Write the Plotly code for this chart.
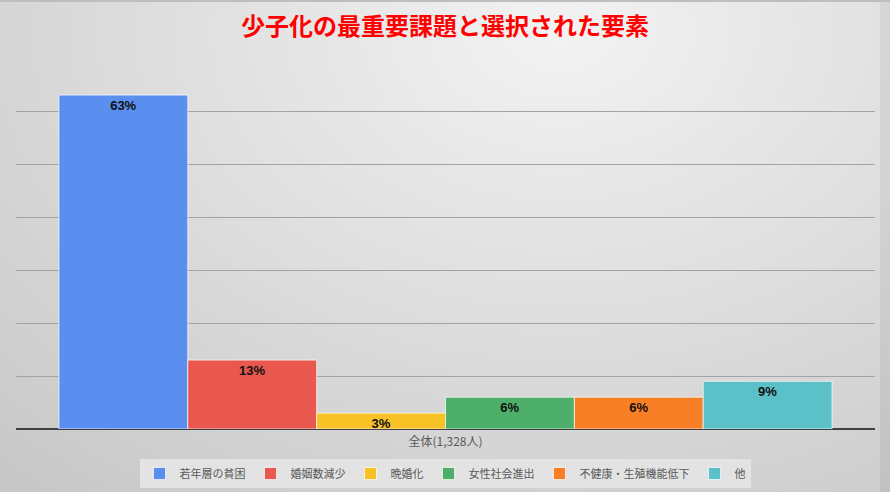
import base64, struct, zlib
import numpy as np
import plotly.graph_objects as go

title = "少子化の最重要課題と選択された要素"
category = ["全体(1,328人)"]
series_names = ["若年層の貧困", "婚姻数減少", "晩婚化", "女性社会進出", "不健康・生殖機能低下", "他"]
series_values = [63, 13, 3, 6, 6, 9]
series_colors = ["#5a8ff0", "#e8584f", "#f8c125", "#4daf69", "#f97f27", "#5bc0c8"]

W, H = 890, 492
pl, pr, pt, pb = 16, 15, 58, 63


def make_png(arr):
    h, w, _ = arr.shape
    raw = b"".join(b"\x00" + arr[i].tobytes() for i in range(h))

    def chunk(tag, data):
        c = struct.pack(">I", len(data)) + tag + data
        return c + struct.pack(">I", zlib.crc32(tag + data) & 0xFFFFFFFF)

    return (b"\x89PNG\r\n\x1a\n" + chunk(b"IHDR", struct.pack(">IIBBBBB", w, h, 8, 2, 0, 0, 0))
            + chunk(b"IDAT", zlib.compress(raw, 9)) + chunk(b"IEND", b""))


yy, xx = np.mgrid[0:H, 0:W].astype(float)
d = np.sqrt(((xx - 560) / 700) ** 2 + ((yy - 30) / 500) ** 2)
v = 243 - 36 * d
v[:, 880:] -= 12
v[:2, :] = 190
v = np.clip(v, 0, 255).astype(np.uint8)
img = np.stack([v, v, v], axis=-1)
src = "data:image/png;base64," + base64.b64encode(make_png(img)).decode()

fig = go.Figure()
for name, val, col in zip(series_names, series_values, series_colors):
    fig.add_trace(go.Bar(
        x=category, y=[val], name=name,
        marker=dict(color=col, line=dict(color="rgba(255,255,255,0.7)", width=1)),
        text=[f"{val}%"], textposition="inside", insidetextanchor="end",
        textfont=dict(family="Liberation Sans, Arial", size=13, color="#111111"),
        texttemplate="<b>%{text}</b>", constraintext="none",
    ))

pw, ph = W - pl - pr, H - pt - pb
fig.update_layout(
    width=W, height=H,
    margin=dict(l=pl, r=pr, t=pt, b=pb, autoexpand=False),
    paper_bgcolor="#dcdcdc", plot_bgcolor="rgba(0,0,0,0)",
    barmode="group", bargap=0.1, bargroupgap=0,
    title=dict(text=f"<b>{title}</b>", x=0.5, xanchor="center", y=1 - 27 / H, yanchor="middle",
               font=dict(family="Noto Sans CJK JP", size=24, color="#ff0000")),
    xaxis=dict(showgrid=False, tickfont=dict(family="Noto Sans CJK JP", size=12, color="#595959"),
               ticks="", showline=False, ticklabelstandoff=4),
    yaxis=dict(range=[0, 70], dtick=10, showticklabels=False, showgrid=True,
               gridcolor="#a3a3a3", gridwidth=1, zeroline=True, zerolinecolor="#404040",
               zerolinewidth=2, ticks=""),
    legend=dict(orientation="h", x=0.5, xanchor="center", xref="container",
                y=1 - 459 / H, yanchor="top", yref="container",
                bgcolor="#e3e3e3", font=dict(family="Noto Sans CJK JP", size=11, color="#595959"),
                itemwidth=30, traceorder="normal"),
    images=[dict(source=src, xref="paper", yref="paper", x=-pl / pw, y=1 + pt / ph,
                 sizex=W / pw, sizey=H / ph, sizing="stretch", layer="below",
                 xanchor="left", yanchor="top")],
    showlegend=True,
)
fig.write_html("out.html")
